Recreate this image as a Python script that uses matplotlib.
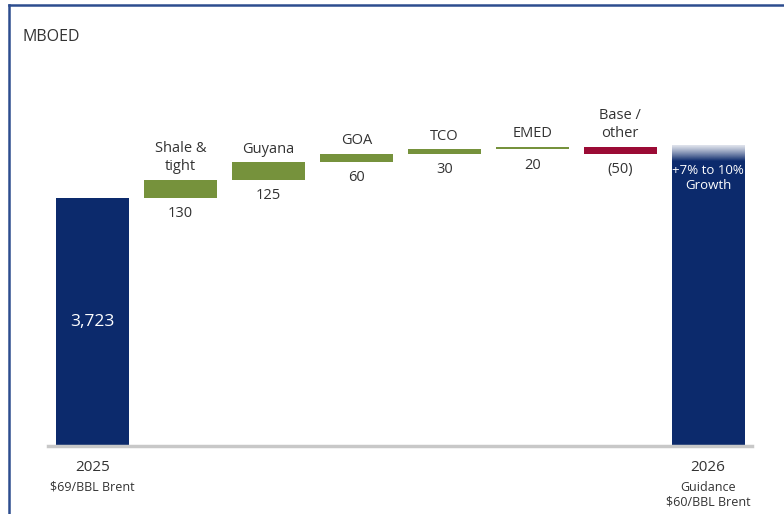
import numpy as np
import matplotlib
matplotlib.use("Agg")
import matplotlib.pyplot as plt
from matplotlib.colors import to_rgb

plt.rcParams['font.family'] = ['Open Sans', 'DejaVu Sans']

# production bridge, MBOED
start_label = "2025"
start_sub = "$69/BBL Brent"
start_value = 3723
steps = ["Shale &\ntight", "Guyana", "GOA", "TCO", "EMED", "Base /\nother"]
deltas = [130, 125, 60, 30, 20, -50]
end_label = "2026"
end_sub = "Guidance\n$60/BBL Brent"
growth_low = 0.07
growth_high = 0.10

NAVY = "#0c2a6c"
GREEN = "#76923c"
RED = "#9b0b35"
TEXT = "#333333"
FRAME = "#2d4d8f"

y_floor = 1950

fig = plt.figure(figsize=(7.84, 5.14), dpi=100)
ax = fig.add_axes([48 / 784, 68 / 514, 704 / 784, 350 / 514])

n = len(steps) + 2
x = np.arange(n)
width = 0.83

# opening bar
ax.bar(x[0], start_value - y_floor, width, bottom=y_floor, color=NAVY, zorder=2)
ax.text(x[0], (start_value + y_floor) / 2, f"{start_value:,}", color="white",
        ha="center", va="center", fontsize=12.5)

# floating steps
level = start_value
for i, (name, d) in enumerate(zip(steps, deltas), start=1):
    lo = min(level, level + d)
    hi = max(level, level + d)
    ax.bar(x[i], hi - lo, width, bottom=lo, color=GREEN if d > 0 else RED, zorder=2)
    ax.annotate(name, (x[i], hi), xytext=(0, 4), textcoords="offset points",
                ha="center", va="bottom", fontsize=10.5, color=TEXT, linespacing=1.25)
    txt = str(d) if d > 0 else f"({abs(d)})"
    ax.annotate(txt, (x[i], lo), xytext=(0, -6), textcoords="offset points",
                ha="center", va="top", fontsize=10.5, color=TEXT)
    level += d

# closing bar with faded growth range on top
end_lo = start_value * (1 + growth_low)
end_hi = start_value * (1 + growth_high)
ax.bar(x[-1], end_lo - y_floor, width, bottom=y_floor, color=NAVY, zorder=2)
grad = np.ones((100, 1, 4))
grad[:, 0, :3] = to_rgb(NAVY)
grad[:, 0, 3] = np.linspace(1.0, 0.2, 100) ** 1.3
ax.imshow(grad, extent=[x[-1] - width / 2, x[-1] + width / 2, end_lo, end_hi],
          origin="lower", aspect="auto", zorder=2, interpolation="bilinear")
ax.text(x[-1], end_lo - 120, f"+{growth_low:.0%} to {growth_high:.0%}\nGrowth",
        color="white", ha="center", va="center", fontsize=9.5, linespacing=1.25)

ax.set_xlim(-0.506, n - 0.5)
ax.set_ylim(y_floor, y_floor + 2500)
for s in ["top", "left", "right"]:
    ax.spines[s].set_visible(False)
ax.spines["bottom"].set_color("#c8c8c8")
ax.spines["bottom"].set_linewidth(2.5)
ax.set_xticks([])
ax.set_yticks([])

# category labels under the end bars
for xi, big, small in [(x[0], start_label, start_sub), (x[-1], end_label, end_sub)]:
    ax.annotate(big, (xi, y_floor), xytext=(0, -10), textcoords="offset points",
                ha="center", va="top", fontsize=11, color=TEXT)
    ax.annotate(small, (xi, y_floor), xytext=(0, -25), textcoords="offset points",
                ha="center", va="top", fontsize=9, color=TEXT, linespacing=1.2)

fig.text(22 / 784, 1 - 37 / 514, "MBOED", fontsize=11.5, color=TEXT, va="center")

# frame lines on the left and top
fig.add_artist(plt.Line2D([9 / 784, 9 / 784], [0, 1 - 5 / 514], color=FRAME, lw=1.8))
fig.add_artist(plt.Line2D([9 / 784, 1], [1 - 5 / 514, 1 - 5 / 514], color=FRAME, lw=1.8))

fig.savefig("out.png", dpi=100)
